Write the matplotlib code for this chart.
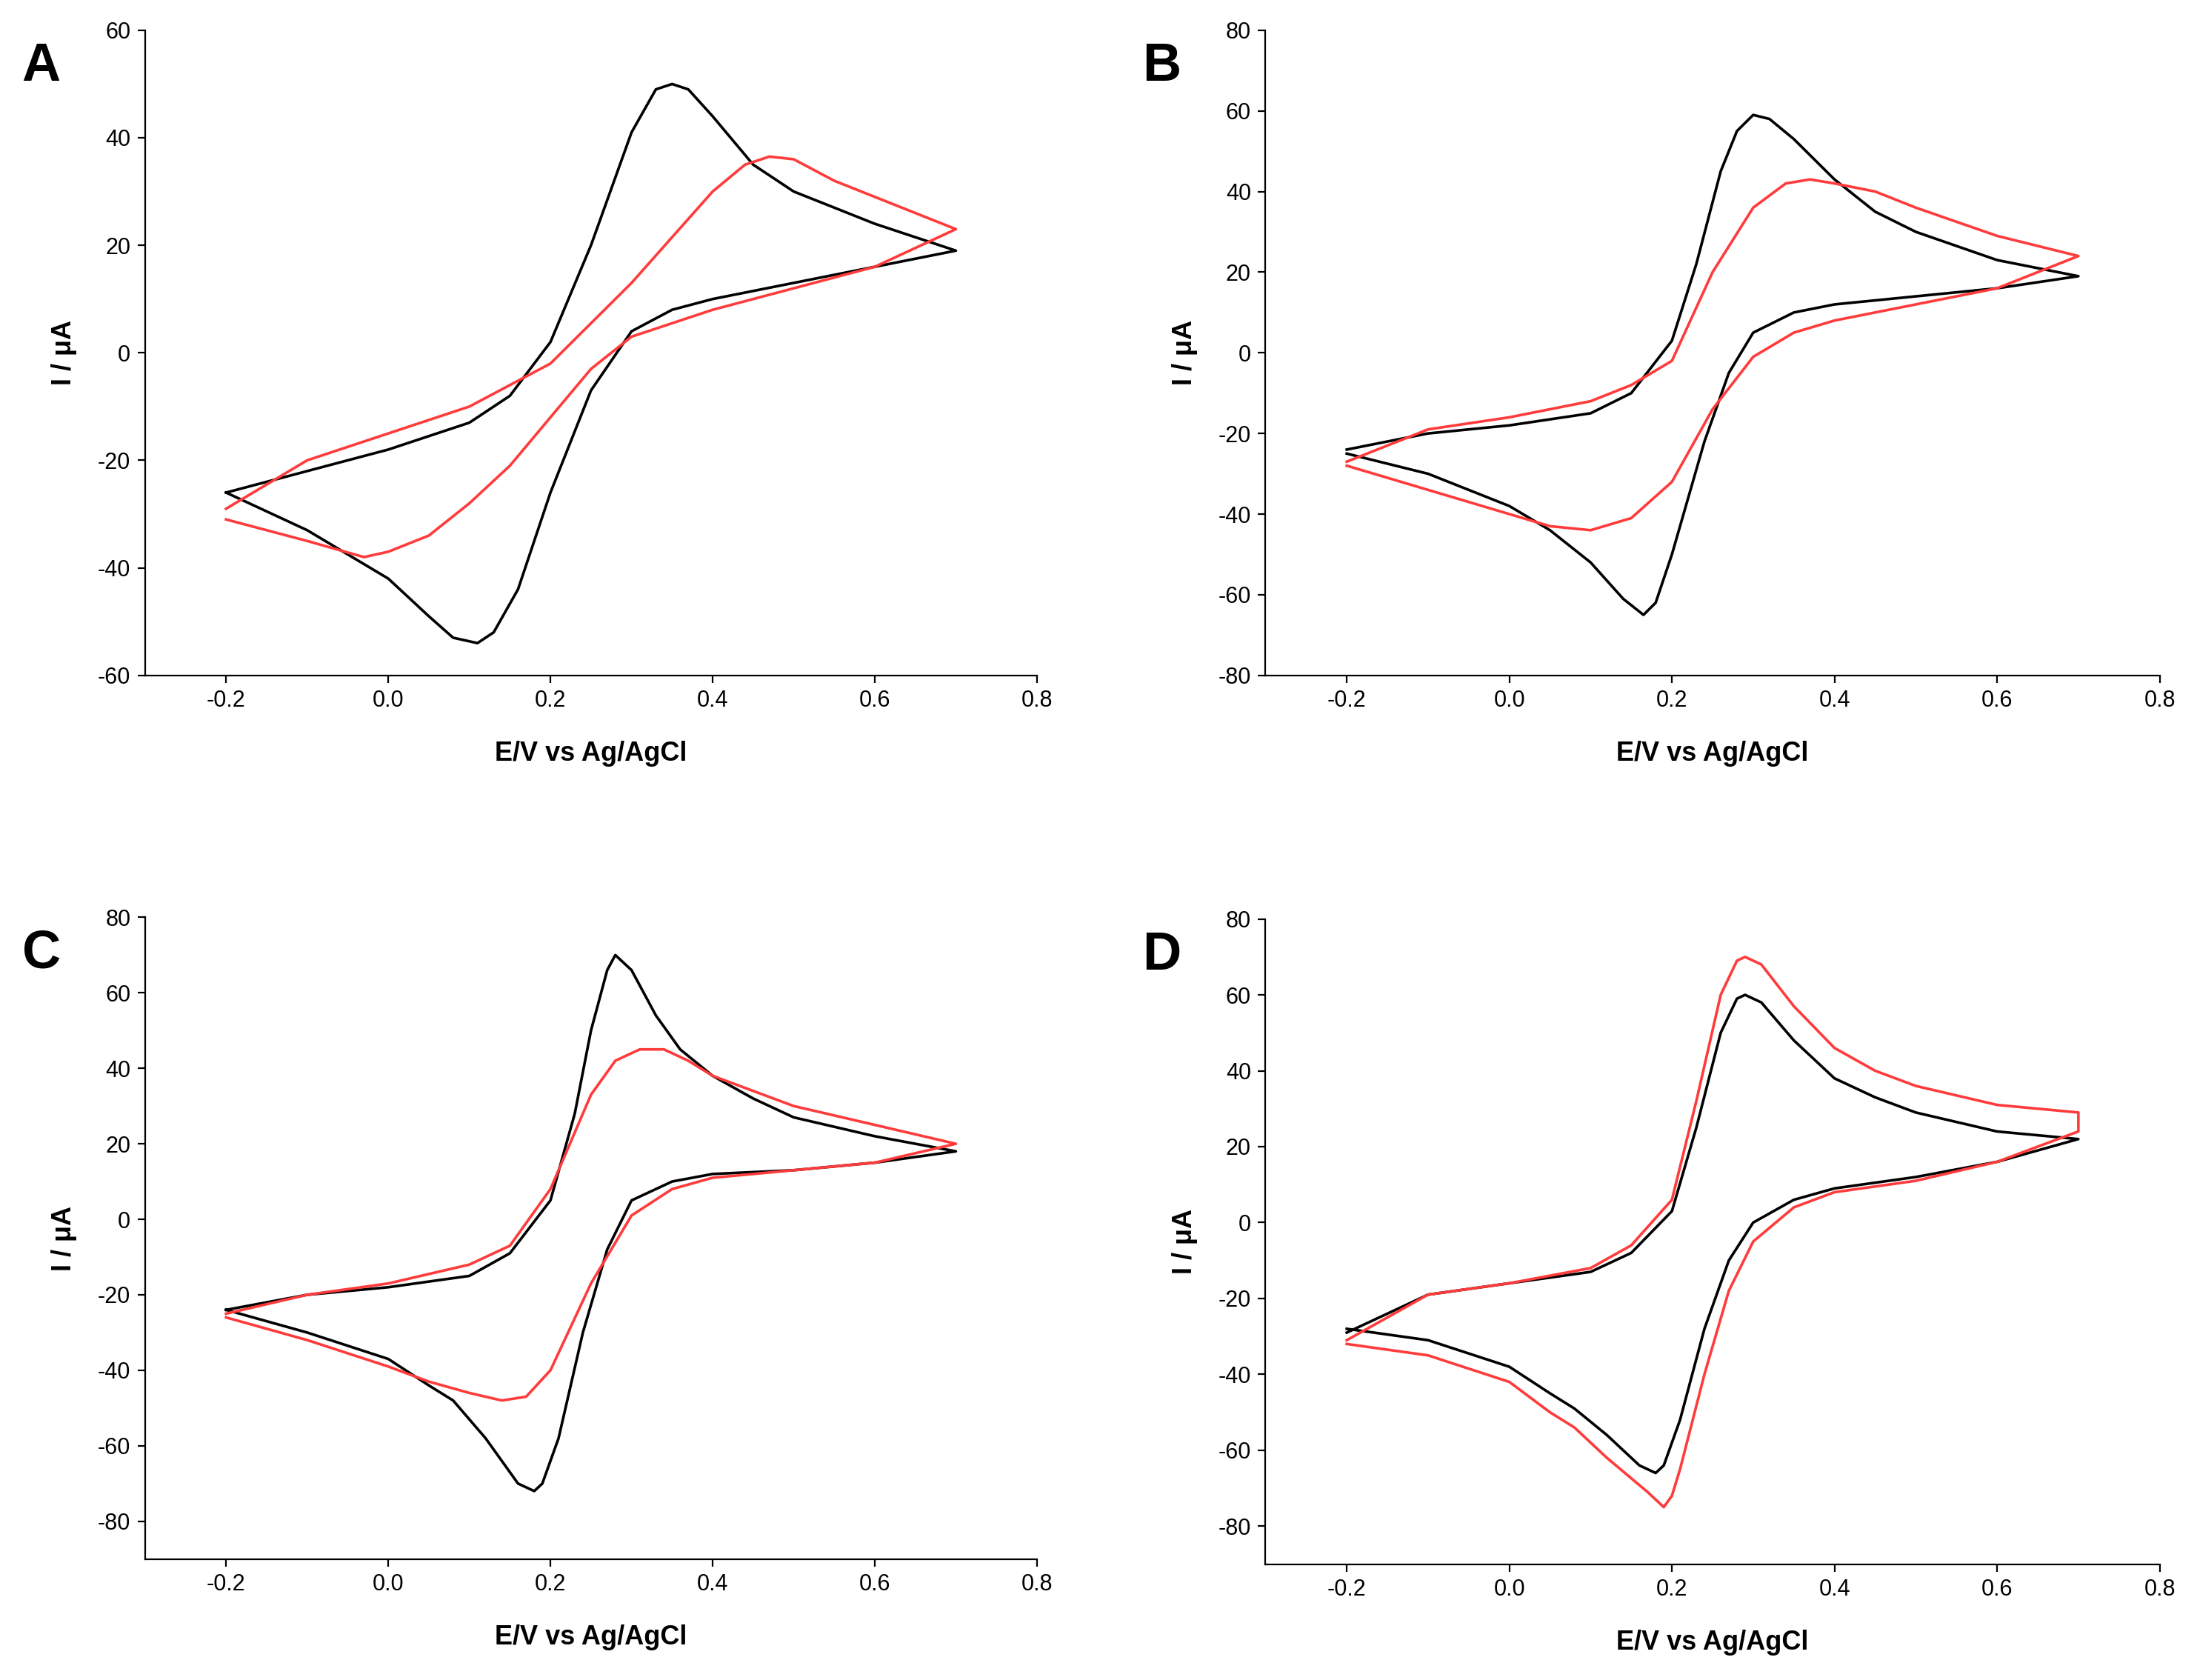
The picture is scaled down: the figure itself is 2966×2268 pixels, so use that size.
import matplotlib.pyplot as plt

plt.rcParams['font.family'] = ['Liberation Sans', 'DejaVu Sans']
plt.rcParams['axes.unicode_minus'] = False

# potential (V) / current (uA); each loop goes -0.2 -> 0.7 -> -0.2
A_black_E = [-0.2, -0.1, 0.0, 0.1, 0.15, 0.2, 0.25, 0.3, 0.33, 0.35, 0.37, 0.4, 0.45, 0.5, 0.6, 0.7,
             0.6, 0.5, 0.4, 0.35, 0.3, 0.25, 0.2, 0.16, 0.13, 0.11, 0.08, 0.05, 0.0, -0.1, -0.2]
A_black_I = [-26, -22, -18, -13, -8, 2, 20, 41, 49, 50, 49, 44, 35, 30, 24, 19,
             16, 13, 10, 8, 4, -7, -26, -44, -52, -54, -53, -49, -42, -33, -26]
A_red_E = [-0.2, -0.1, 0.0, 0.1, 0.2, 0.3, 0.4, 0.44, 0.47, 0.5, 0.55, 0.6, 0.7,
           0.6, 0.5, 0.4, 0.3, 0.25, 0.2, 0.15, 0.1, 0.05, 0.0, -0.03, -0.1, -0.2]
A_red_I = [-29, -20, -15, -10, -2, 13, 30, 35, 36.5, 36, 32, 29, 23,
           16, 12, 8, 3, -3, -12, -21, -28, -34, -37, -38, -35, -31]

B_black_E = [-0.2, -0.1, 0.0, 0.1, 0.15, 0.2, 0.23, 0.26, 0.28, 0.3, 0.32, 0.35, 0.4, 0.45, 0.5, 0.6, 0.7,
             0.6, 0.5, 0.4, 0.35, 0.3, 0.27, 0.24, 0.2, 0.18, 0.165, 0.14, 0.1, 0.05, 0.0, -0.1, -0.2]
B_black_I = [-24, -20, -18, -15, -10, 3, 22, 45, 55, 59, 58, 53, 43, 35, 30, 23, 19,
             16, 14, 12, 10, 5, -5, -22, -50, -62, -65, -61, -52, -44, -38, -30, -25]
B_red_E = [-0.2, -0.1, 0.0, 0.1, 0.15, 0.2, 0.25, 0.3, 0.34, 0.37, 0.4, 0.45, 0.5, 0.6, 0.7,
           0.6, 0.5, 0.4, 0.35, 0.3, 0.25, 0.2, 0.15, 0.1, 0.05, 0.0, -0.1, -0.2]
B_red_I = [-27, -19, -16, -12, -8, -2, 20, 36, 42, 43, 42, 40, 36, 29, 24,
           16, 12, 8, 5, -1, -14, -32, -41, -44, -43, -40, -34, -28]

C_black_E = [-0.2, -0.1, 0.0, 0.1, 0.15, 0.2, 0.23, 0.25, 0.27, 0.28, 0.3, 0.33, 0.36, 0.4, 0.45, 0.5, 0.6, 0.7,
             0.6, 0.5, 0.4, 0.35, 0.3, 0.27, 0.24, 0.21, 0.19, 0.18, 0.16, 0.12, 0.08, 0.05, 0.0, -0.1, -0.2]
C_black_I = [-24, -20, -18, -15, -9, 5, 28, 50, 66, 70, 66, 54, 45, 38, 32, 27, 22, 18,
             15, 13, 12, 10, 5, -8, -30, -58, -70, -72, -70, -58, -48, -44, -37, -30, -24]
C_red_E = [-0.2, -0.1, 0.0, 0.1, 0.15, 0.2, 0.25, 0.28, 0.31, 0.34, 0.37, 0.4, 0.45, 0.5, 0.6, 0.7,
           0.6, 0.5, 0.4, 0.35, 0.3, 0.25, 0.2, 0.17, 0.14, 0.1, 0.05, 0.0, -0.1, -0.2]
C_red_I = [-25, -20, -17, -12, -7, 8, 33, 42, 45, 45, 42, 38, 34, 30, 25, 20,
           15, 13, 11, 8, 1, -17, -40, -47, -48, -46, -43, -39, -32, -26]

D_black_E = [-0.2, -0.1, 0.0, 0.1, 0.15, 0.2, 0.23, 0.26, 0.28, 0.29, 0.31, 0.35, 0.4, 0.45, 0.5, 0.6, 0.7,
             0.6, 0.5, 0.4, 0.35, 0.3, 0.27, 0.24, 0.21, 0.19, 0.18, 0.16, 0.12, 0.08, 0.05, 0.0, -0.1, -0.2]
D_black_I = [-29, -19, -16, -13, -8, 3, 25, 50, 59, 60, 58, 48, 38, 33, 29, 24, 22,
             16, 12, 9, 6, 0, -10, -28, -52, -64, -66, -64, -56, -49, -45, -38, -31, -28]
D_red_E = [-0.2, -0.1, 0.0, 0.1, 0.15, 0.2, 0.23, 0.26, 0.28, 0.29, 0.31, 0.35, 0.4, 0.45, 0.5, 0.6, 0.7, 0.7,
           0.6, 0.5, 0.4, 0.35, 0.3, 0.27, 0.24, 0.21, 0.2, 0.19, 0.17, 0.12, 0.08, 0.05, 0.0, -0.1, -0.2]
D_red_I = [-31, -19, -16, -12, -6, 6, 32, 60, 69, 70, 68, 57, 46, 40, 36, 31, 29, 24,
           16, 11, 8, 4, -5, -18, -40, -65, -72, -75, -71, -62, -54, -50, -42, -35, -32]

panels = [
    ("A", A_black_E, A_black_I, A_red_E, A_red_I, (-60, 60), [0.066, 0.598, 0.406, 0.384]),
    ("B", B_black_E, B_black_I, B_red_E, B_red_I, (-80, 80), [0.576, 0.598, 0.407, 0.384]),
    ("C", C_black_E, C_black_I, C_red_E, C_red_I, (-90, 80), [0.066, 0.072, 0.406, 0.382]),
    ("D", D_black_E, D_black_I, D_red_E, D_red_I, (-90, 80), [0.576, 0.069, 0.407, 0.384]),
]

fig = plt.figure(figsize=(14.83, 11.34), dpi=200)
for letter, bE, bI, rE, rI, ylim, pos in panels:
    ax = fig.add_axes(pos)
    ax.plot(bE, bI, color="black", lw=1.3, solid_joinstyle="round")
    ax.plot(rE, rI, color="#ff3b3b", lw=1.3, solid_joinstyle="round")
    ax.set_xlim(-0.3, 0.8)
    ax.set_ylim(*ylim)
    ax.set_xticks([-0.2, 0.0, 0.2, 0.4, 0.6, 0.8])
    ax.set_xticklabels(["-0.2", "0.0", "0.2", "0.4", "0.6", "0.8"])
    ax.set_yticks(range(-80 if ylim[0] < -60 else -60, ylim[1] + 1, 20))
    for s in ["top", "right"]:
        ax.spines[s].set_visible(False)
    ax.tick_params(direction="out", labelsize=11)
    ax.set_xlabel("E/V vs Ag/AgCl", fontsize=13, fontweight="bold", labelpad=14)
    ax.set_ylabel("I / μA", fontsize=13, fontweight="bold", labelpad=10)
    fig.text(pos[0] - 0.056, pos[1] + pos[3] - 0.03, letter, fontsize=26, fontweight="bold")

fig.savefig("out.png", dpi=200)
